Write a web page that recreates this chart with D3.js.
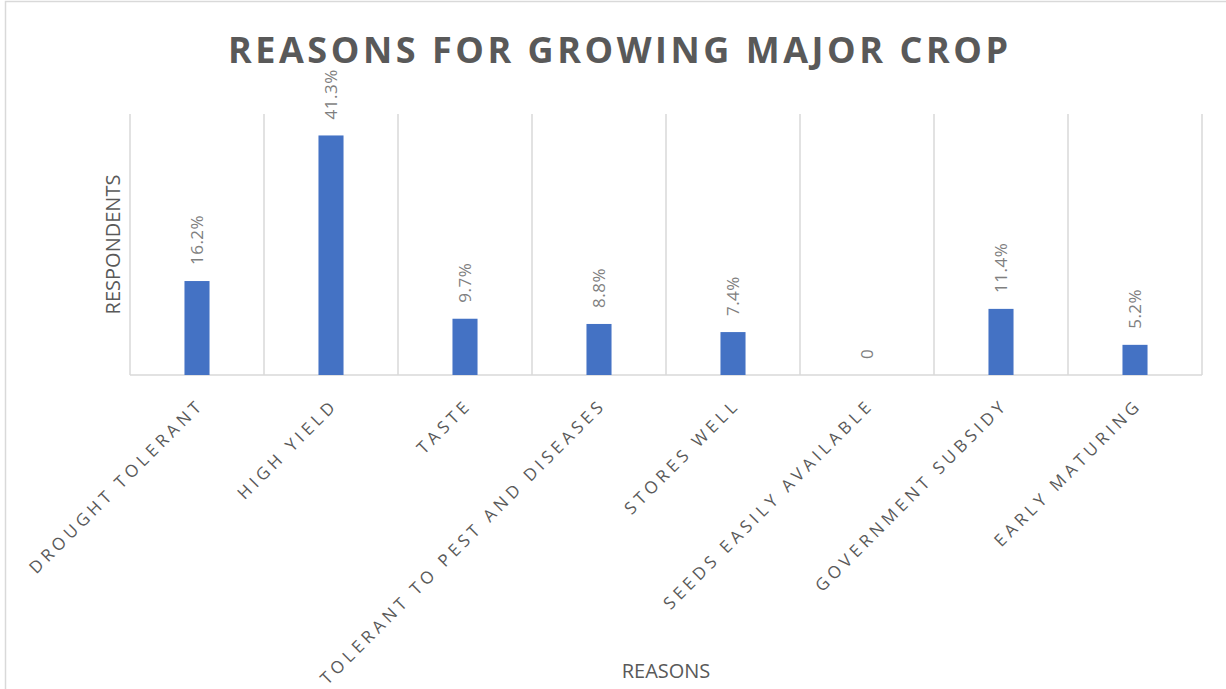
<!DOCTYPE html>
<html>
<head>
<meta charset="utf-8">
<script src="https://cdn.jsdelivr.net/npm/d3@7"></script>
<style>
  body { margin: 0; background: #fff; }
  text { font-family: "Open Sans", sans-serif; }
</style>
</head>
<body>
<script>
// chart data
var reasons = ["DROUGHT TOLERANT", "HIGH YIELD", "TASTE", "TOLERANT TO PEST AND DISEASES",
               "STORES WELL", "SEEDS EASILY AVAILABLE", "GOVERNMENT SUBSIDY", "EARLY MATURING"];
var percent = [16.2, 41.3, 9.7, 8.8, 7.4, 0, 11.4, 5.2];
var yDomain = [0, 45];

var width = 1226, height = 689;
var plotLeft = 130, plotRight = 1202, plotTop = 114, plotBottom = 375;

var svg = d3.select("body").append("svg").attr("width", width).attr("height", height);

// chart frame
svg.append("rect").attr("x", 5.5).attr("y", 1.5).attr("width", 1240).attr("height", 720)
    .attr("fill", "none").attr("stroke", "#d9d9d9").attr("stroke-width", 1.5);

var x = d3.scaleBand().domain(reasons).range([plotLeft, plotRight])
    .paddingInner(0.813).paddingOuter(0.4065);
var y = d3.scaleLinear().domain(yDomain).range([plotBottom, plotTop]);

// vertical gridlines between categories
var grid = svg.append("g");
grid.selectAll("line").data(d3.range(reasons.length + 1)).enter()
    .append("line")
    .attr("x1", function (i) { return plotLeft + i * x.step(); })
    .attr("x2", function (i) { return plotLeft + i * x.step(); })
    .attr("y1", y(yDomain[1])).attr("y2", y(0))
    .attr("stroke", "#d9d9d9").attr("stroke-width", 1.5);

// baseline
svg.append("line").attr("x1", plotLeft).attr("x2", plotRight).attr("y1", y(0)).attr("y2", y(0))
    .attr("stroke", "#d9d9d9").attr("stroke-width", 1.5);

// bars
svg.append("g").selectAll("rect").data(percent).enter()
    .append("rect")
    .attr("x", function (d, i) { return x(reasons[i]); })
    .attr("y", function (d) { return y(d); })
    .attr("width", x.bandwidth())
    .attr("height", function (d) { return y(0) - y(d); })
    .attr("fill", "#4472c4");

// value labels (rotated)
svg.append("g").selectAll("text").data(percent).enter()
    .append("text")
    .attr("transform", function (d, i) {
        return "translate(" + (x(reasons[i]) + x.bandwidth() / 2) + "," + (y(d) - 16) + ") rotate(-90)";
    })
    .attr("dy", "0.35em")
    .attr("font-size", 17).attr("fill", "#7f7f7f").attr("letter-spacing", 0.5)
    .text(function (d) { return d === 0 ? "0" : d.toFixed(1) + "%"; });

// category labels at -45 degrees
var xAxis = d3.axisBottom(x).tickSize(0).tickPadding(0);
var ax = svg.append("g").attr("transform", "translate(0," + y(0) + ")").call(xAxis);
ax.select(".domain").remove();
ax.selectAll("text")
    .attr("font-family", "Open Sans").attr("font-size", 17).attr("fill", "#595959")
    .attr("letter-spacing", 4.2)
    .attr("text-anchor", "end")
    .attr("dy", 0).attr("y", 0)
    .attr("transform", "translate(8,31) rotate(-45)");

// title
svg.append("text").attr("x", 618).attr("y", 63).attr("text-anchor", "middle")
    .attr("font-size", 36).attr("font-weight", "bold").attr("fill", "#595959")
    .attr("textLength", 780).attr("lengthAdjust", "spacing")
    .text("REASONS FOR GROWING MAJOR CROP");

// axis titles
svg.append("text").attr("transform", "translate(120," + ((plotTop + plotBottom) / 2) + ") rotate(-90)")
    .attr("text-anchor", "middle").attr("font-size", 20).attr("fill", "#595959")
    .text("RESPONDENTS");
svg.append("text").attr("x", (plotLeft + plotRight) / 2).attr("y", 678).attr("text-anchor", "middle")
    .attr("font-size", 20).attr("fill", "#595959")
    .text("REASONS");
</script>
</body>
</html>
